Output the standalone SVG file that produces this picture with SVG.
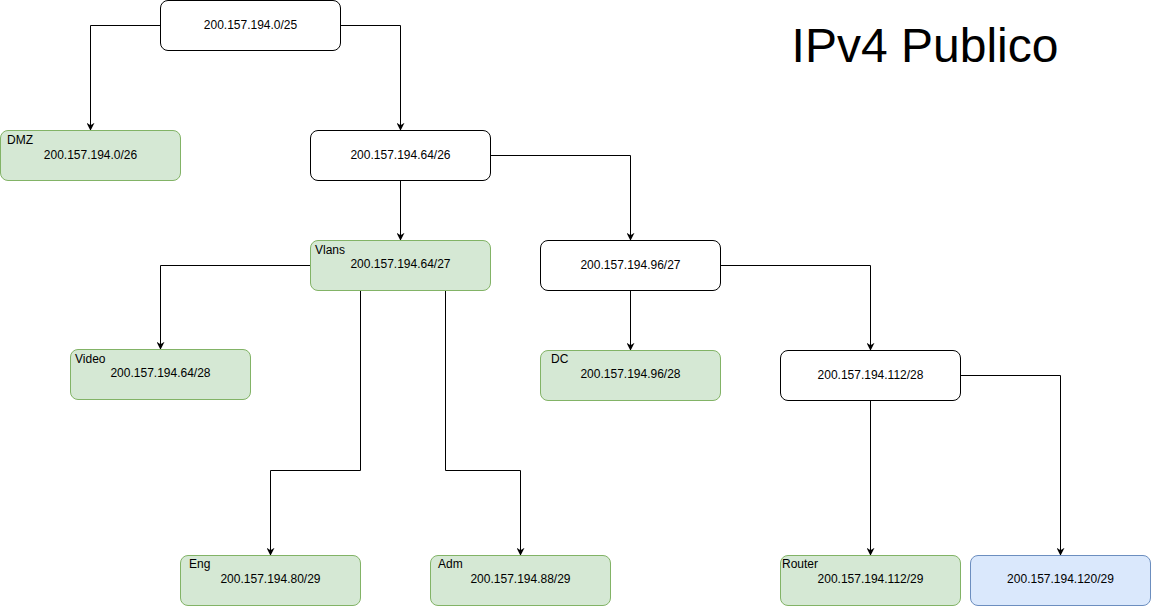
<svg xmlns="http://www.w3.org/2000/svg" width="1151" height="606" viewBox="0 0 1151 606">
<defs>
<marker id="arr" viewBox="0 0 10 10" refX="9" refY="5" markerWidth="8" markerHeight="8" markerUnits="userSpaceOnUse" orient="auto">
<path d="M0,0 L10,5 L0,10 L3,5 Z" fill="#000"/>
</marker>
</defs>
<style>
rect{stroke-width:1}
.w{fill:#fff;stroke:#000}
.g{fill:#d5e8d4;stroke:#82b366}
.b{fill:#dae8fc;stroke:#6c8ebf}
text{font-family:"Liberation Sans",Arial,sans-serif;font-size:12px;fill:#000}
.c{text-anchor:middle}
.t{font-size:48px;text-anchor:middle}
.e{fill:none;stroke:#000;stroke-width:1;marker-end:url(#arr)}
</style>
<rect width="1151" height="606" fill="#fff"/>
<g id="connectors">
<path class="e" d="M160.5,25.5 H90.5 V130"/>
<path class="e" d="M340.5,25.5 H400.5 V130"/>
<path class="e" d="M400.5,180.5 V240"/>
<path class="e" d="M490.5,155.5 H630.5 V240"/>
<path class="e" d="M310.5,265.5 H160.5 V349"/>
<path class="e" d="M360.5,290.5 V470.5 H270.5 V555"/>
<path class="e" d="M445.5,290.5 V470.5 H520.5 V555"/>
<path class="e" d="M630.5,290.5 V350"/>
<path class="e" d="M720.5,265.5 H870.5 V350"/>
<path class="e" d="M870.5,400.5 V555"/>
<path class="e" d="M960.5,375.5 H1060.5 V555"/>
</g>
<g id="root"><rect class="w" x="160.5" y="0.5" width="180" height="50" rx="7.5"/><text class="c" x="250.5" y="29">200.157.194.0/25</text></g>
<g id="dmz"><rect class="g" x="0.5" y="130.5" width="180" height="50" rx="7.5"/><text x="7" y="144">DMZ</text><text class="c" x="90.5" y="159">200.157.194.0/26</text></g>
<g id="n64-26"><rect class="w" x="310.5" y="130.5" width="180" height="50" rx="7.5"/><text class="c" x="400.5" y="159">200.157.194.64/26</text></g>
<g id="vlans"><rect class="g" x="310.5" y="240.5" width="180" height="50" rx="7.5"/><text x="315" y="254">Vlans</text><text class="c" x="400.5" y="268">200.157.194.64/27</text></g>
<g id="n96-27"><rect class="w" x="540.5" y="240.5" width="180" height="50" rx="7.5"/><text class="c" x="630.5" y="269">200.157.194.96/27</text></g>
<g id="video"><rect class="g" x="70.5" y="349.5" width="180" height="50" rx="7.5"/><text x="75" y="363">Video</text><text class="c" x="160.5" y="377">200.157.194.64/28</text></g>
<g id="dc"><rect class="g" x="540.5" y="350.5" width="180" height="50" rx="7.5"/><text x="551" y="363">DC</text><text class="c" x="630.5" y="378">200.157.194.96/28</text></g>
<g id="n112-28"><rect class="w" x="780.5" y="350.5" width="180" height="50" rx="7.5"/><text class="c" x="870.5" y="379">200.157.194.112/28</text></g>
<g id="eng"><rect class="g" x="180.5" y="555.5" width="180" height="50" rx="7.5"/><text x="189" y="568">Eng</text><text class="c" x="270.5" y="583">200.157.194.80/29</text></g>
<g id="adm"><rect class="g" x="430.5" y="555.5" width="180" height="50" rx="7.5"/><text x="438" y="568">Adm</text><text class="c" x="520.5" y="583">200.157.194.88/29</text></g>
<g id="router"><rect class="g" x="780.5" y="555.5" width="180" height="50" rx="7.5"/><text x="782" y="568">Router</text><text class="c" x="870.5" y="583">200.157.194.112/29</text></g>
<g id="n120-29"><rect class="b" x="970.5" y="555.5" width="180" height="50" rx="7.5"/><text class="c" x="1060.5" y="583">200.157.194.120/29</text></g>
<g id="title"><text class="t" x="925" y="62">IPv4 Publico</text></g>
</svg>
